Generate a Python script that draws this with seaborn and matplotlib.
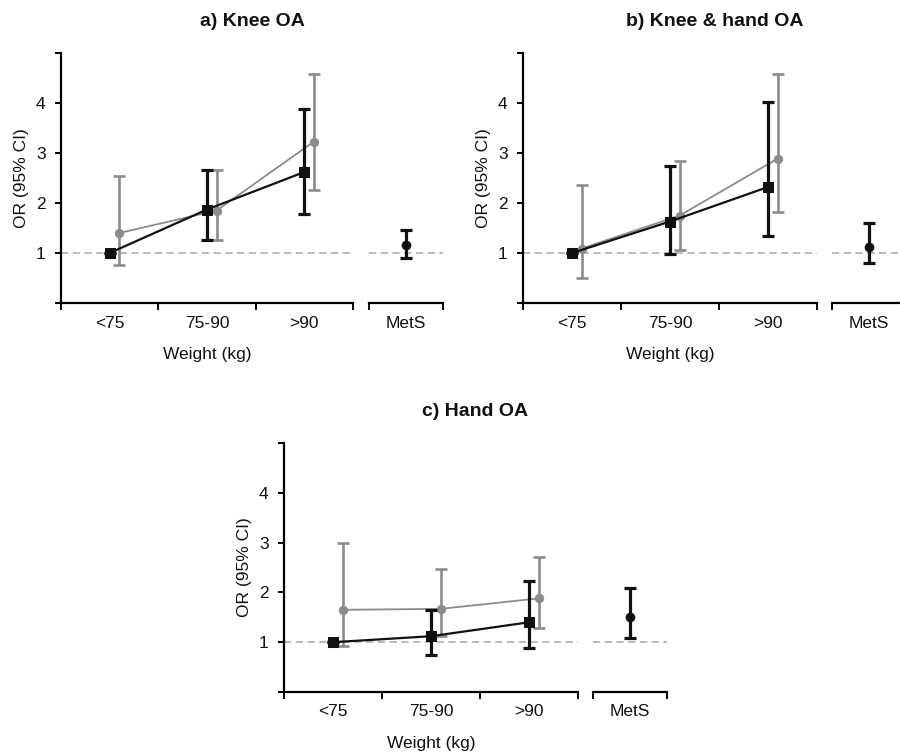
import matplotlib
matplotlib.use('Agg')  # no display
import matplotlib.pyplot as plt
import seaborn as sns

categories = ['<75', '75-90', '>90']
titles = ['a) Knee OA', 'b) Knee & hand OA', 'c) Hand OA']

# black series (squares), one row per panel
black_or = [[1.00, 1.87, 2.62], [1.00, 1.63, 2.32], [1.00, 1.12, 1.40]]
black_lo = [[1.00, 1.27, 1.78], [1.00, 0.99, 1.34], [1.00, 0.74, 0.88]]
black_hi = [[1.00, 2.67, 3.89], [1.00, 2.74, 4.03], [1.00, 1.65, 2.22]]

# grey series (circles)
grey_or = [[1.40, 1.85, 3.23], [1.09, 1.75, 2.89], [1.65, 1.67, 1.88]]
grey_lo = [[0.77, 1.27, 2.27], [0.51, 1.07, 1.82], [0.92, 1.12, 1.29]]
grey_hi = [[2.55, 2.67, 4.59], [2.37, 2.85, 4.59], [2.99, 2.46, 2.71]]

# metabolic syndrome
mets_or = [1.17, 1.12, 1.51]
mets_lo = [0.91, 0.81, 1.09]
mets_hi = [1.47, 1.60, 2.09]

sns.set_theme(style="ticks")
plt.rcParams['font.family'] = ['Liberation Sans', 'DejaVu Sans']

W, H = 900, 754
BLACK = '#111111'
GREY = '#8c8c8c'
DASH = '#b5b5b5'
FS = 12.5

fig = plt.figure(figsize=(W / 100, H / 100), dpi=100)

# pixel boxes (left, top, width, height) for main axes and the MetS axes
main_boxes = [(61, 53, 292, 250), (523, 53, 294, 250), (284, 443, 294, 249)]
mets_left = [369, 832, 593]
mets_w = 74


def px_rect(l, t, w, h):
    return [l / W, 1 - (t + h) / H, w / W, h / H]


def style_axis(ax):
    ax.set_ylim(0, 5)
    ax.tick_params(axis='x', which='major', length=5, width=1.4, color='black')
    ax.tick_params(axis='y', which='major', length=4, width=1.4, color='black',
                   labelsize=FS, labelcolor='#111111', pad=7)
    ax.tick_params(axis='x', which='minor', length=0, labelsize=FS,
                   labelcolor='#111111', pad=9)
    for s in ['top', 'right']:
        ax.spines[s].set_visible(False)
    ax.spines['bottom'].set_linewidth(1.6)
    ax.spines['left'].set_linewidth(1.6)
    ax.spines['bottom'].set_color('black')
    ax.spines['left'].set_color('black')


for i in range(3):
    l, t, w, h = main_boxes[i]
    ax = fig.add_axes(px_rect(l, t, w, h))
    axm = fig.add_axes(px_rect(mets_left[i], t, mets_w, h))

    pos = [0.5, 1.5, 2.5]
    gpos = [p + 0.1 for p in pos]

    ax.axhline(1, color=DASH, lw=1.3, ls=(0, (4, 2.5)), zorder=1)

    # grey series
    ax.errorbar(gpos, grey_or[i],
                yerr=[[o - lo for o, lo in zip(grey_or[i], grey_lo[i])],
                      [hi - o for o, hi in zip(grey_or[i], grey_hi[i])]],
                fmt='none', ecolor=GREY, elinewidth=1.9, capsize=4, capthick=1.9, zorder=2)
    sns.lineplot(x=gpos, y=grey_or[i], ax=ax, color=GREY, lw=1.3, marker='o',
                 markersize=6, markeredgecolor=GREY, zorder=3)

    # black series
    ax.errorbar(pos, black_or[i],
                yerr=[[o - lo for o, lo in zip(black_or[i], black_lo[i])],
                      [hi - o for o, hi in zip(black_or[i], black_hi[i])]],
                fmt='none', ecolor=BLACK, elinewidth=2.3, capsize=4, capthick=2.3, zorder=4)
    sns.lineplot(x=pos, y=black_or[i], ax=ax, color=BLACK, lw=1.6, marker='s',
                 markersize=6.5, markeredgecolor=BLACK, zorder=5)

    ax.set_xlim(0, 3)
    ax.set_xticks([0, 1, 2, 3])
    ax.set_xticklabels([])
    ax.set_xticks(pos, minor=True)
    ax.set_xticklabels(categories, minor=True)
    ax.set_yticks([0, 1, 2, 3, 4, 5])
    ax.set_yticklabels(['', '1', '2', '3', '4', ''])
    ax.set_xlabel('Weight (kg)', fontsize=FS, color='#111111', labelpad=12)
    ax.set_ylabel('OR (95% CI)', fontsize=FS, color='#111111', labelpad=5)
    style_axis(ax)

    # MetS panel
    axm.axhline(1, color=DASH, lw=1.3, ls=(0, (4, 2.5)), zorder=1)
    axm.errorbar([0.5], [mets_or[i]],
                 yerr=[[mets_or[i] - mets_lo[i]], [mets_hi[i] - mets_or[i]]],
                 fmt='none', ecolor=BLACK, elinewidth=2.3, capsize=4, capthick=2.3, zorder=2)
    sns.scatterplot(x=[0.5], y=[mets_or[i]], ax=axm, color=BLACK, marker='o', s=42,
                    edgecolor=BLACK, zorder=3)
    axm.set_xlim(0, 1)
    axm.set_xticks([0, 1])
    axm.set_xticklabels([])
    axm.set_xticks([0.5], minor=True)
    axm.set_xticklabels(['MetS'], minor=True)
    axm.set_yticks([])
    style_axis(axm)
    axm.spines['left'].set_visible(False)

    # title centred over main + MetS axes
    cx = (l + mets_left[i] + mets_w) / 2
    fig.text(cx / W, 1 - (t - 32) / H, titles[i], ha='center', va='center',
             fontsize=14, fontweight='bold', color='#111111')

plt.savefig('out.png', dpi=100)
plt.close()
